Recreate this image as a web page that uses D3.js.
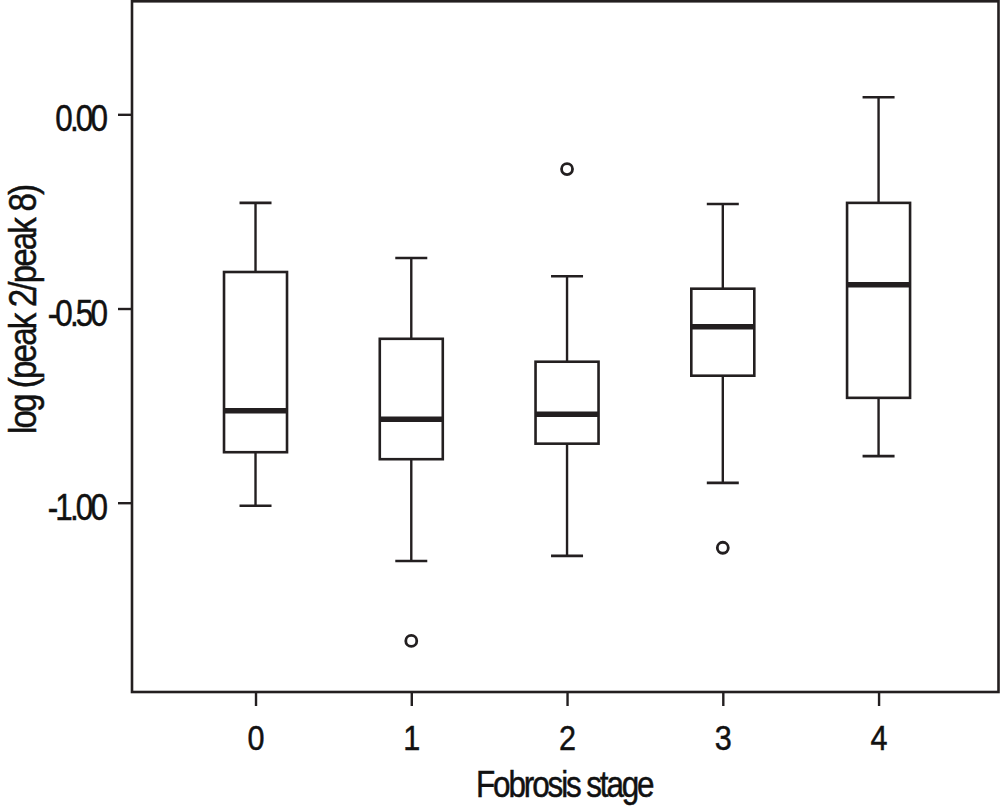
<!DOCTYPE html>
<html>
<head>
<meta charset="utf-8">
<script src="https://cdn.jsdelivr.net/npm/d3@7"></script>
<style>
  html, body { margin: 0; padding: 0; background: #fff; }
  svg { display: block; }
  text { font-family: 'Liberation Sans', Arial, sans-serif; fill: #111; stroke: #111; stroke-width: 0.5px; }
</style>
</head>
<body>
<svg id="chart" width="1000" height="809"></svg>
<script>
// ---- data ----
const categories = ["0", "1", "2", "3", "4"];
const whiskerLow  = [-1.008, -1.150, -1.137, -0.949, -0.880];
const q1          = [-0.870, -0.888, -0.848, -0.673, -0.730];
const median      = [-0.763, -0.785, -0.772, -0.547, -0.439];
const q3          = [-0.406, -0.578, -0.637, -0.449, -0.228];
const whiskerHigh = [-0.228, -0.370, -0.417, -0.231,  0.044];
const outlierCat  = [1, 2, 3];
const outlierVal  = [-1.356, -0.141, -1.116];
const yTicks = [0, -0.5, -1.0];
const xTitle = "Fobrosis stage";
const yTitle = "log (peak 2/peak 8)";

// ---- layout ----
const svg = d3.select("#chart");
const pLeft = 132, pRight = 998.5, pTop = 1.3, pBottom = 692;
const ink = "#231f20";
const sx = 0.85; // horizontal condensing of the type

const x = d3.scaleLinear().domain([-0.793, 4.77]).range([pLeft, pRight]);
const y = d3.scaleLinear().domain([-1.4874, 0.291]).range([pBottom, pTop]);

const boxW = 63, capW = 32;

// frame
svg.append("rect")
  .attr("x", pLeft).attr("y", pTop)
  .attr("width", pRight - pLeft).attr("height", pBottom - pTop)
  .attr("fill", "none").attr("stroke", ink).attr("stroke-width", 2.6);

// axes
const fmt = d => d3.format(".2f")(d).replace("\u2212", "-");
const yAxis = svg.append("g")
  .attr("transform", `translate(${pLeft},0)`)
  .call(d3.axisLeft(y).tickValues(yTicks).tickSize(14).tickPadding(13).tickFormat(fmt));
const xAxis = svg.append("g")
  .attr("transform", `translate(0,${pBottom})`)
  .call(d3.axisBottom(x).tickValues(categories.map((c, i) => i)).tickSize(14).tickPadding(18)
        .tickFormat(i => categories[i]));

[yAxis, xAxis].forEach(g => {
  g.select(".domain").remove();
  g.selectAll(".tick line").attr("stroke", ink).attr("stroke-width", 2.4);
  g.selectAll(".tick text").attr("fill", "#111")
    .attr("font-family", "'Liberation Sans', Arial, sans-serif")
    .style("font-size", "37px")
    .attr("transform", `scale(${sx},1)`);
});
yAxis.selectAll(".tick text").attr("dy", "0.45em").attr("x", -27 / sx)
  .style("letter-spacing", "-3.4px");
xAxis.selectAll(".tick text").style("font-size", "36px");

// boxes
const idx = d3.range(categories.length);
const g = svg.append("g");
// whiskers
g.selectAll(".wh").data(idx).join("line").attr("class", "wh")
  .attr("x1", i => x(i)).attr("x2", i => x(i))
  .attr("y1", i => y(whiskerHigh[i])).attr("y2", i => y(q3[i]))
  .attr("stroke", ink).attr("stroke-width", 2.4);
g.selectAll(".wl").data(idx).join("line").attr("class", "wl")
  .attr("x1", i => x(i)).attr("x2", i => x(i))
  .attr("y1", i => y(q1[i])).attr("y2", i => y(whiskerLow[i]))
  .attr("stroke", ink).attr("stroke-width", 2.4);
// caps
g.selectAll(".ch").data(idx).join("line").attr("class", "ch")
  .attr("x1", i => x(i) - capW / 2).attr("x2", i => x(i) + capW / 2)
  .attr("y1", i => y(whiskerHigh[i])).attr("y2", i => y(whiskerHigh[i]))
  .attr("stroke", ink).attr("stroke-width", 2.6);
g.selectAll(".cl").data(idx).join("line").attr("class", "cl")
  .attr("x1", i => x(i) - capW / 2).attr("x2", i => x(i) + capW / 2)
  .attr("y1", i => y(whiskerLow[i])).attr("y2", i => y(whiskerLow[i]))
  .attr("stroke", ink).attr("stroke-width", 2.6);
// box
g.selectAll(".box").data(idx).join("rect").attr("class", "box")
  .attr("x", i => x(i) - boxW / 2).attr("width", boxW)
  .attr("y", i => y(q3[i])).attr("height", i => y(q1[i]) - y(q3[i]))
  .attr("fill", "#fff").attr("stroke", ink).attr("stroke-width", 2.6);
// median
g.selectAll(".med").data(idx).join("line").attr("class", "med")
  .attr("x1", i => x(i) - boxW / 2).attr("x2", i => x(i) + boxW / 2)
  .attr("y1", i => y(median[i])).attr("y2", i => y(median[i]))
  .attr("stroke", ink).attr("stroke-width", 5.5);
// outliers
g.selectAll(".out").data(outlierVal).join("circle").attr("class", "out")
  .attr("cx", (d, k) => x(outlierCat[k])).attr("cy", d => y(d))
  .attr("r", 5.5).attr("fill", "none").attr("stroke", ink).attr("stroke-width", 2.8);

// titles
svg.append("text")
  .attr("transform", `translate(${(pLeft + pRight) / 2 - 1},797) scale(${sx},1)`)
  .attr("text-anchor", "middle")
  .style("font-size", "37px").style("letter-spacing", "-2.5px")
  .text(xTitle);
svg.append("text")
  .attr("transform", `translate(36,310) rotate(-90) scale(${sx},1)`)
  .attr("text-anchor", "middle")
  .style("font-size", "39px").style("letter-spacing", "-2.2px")
  .text(yTitle);
</script>
</body>
</html>
